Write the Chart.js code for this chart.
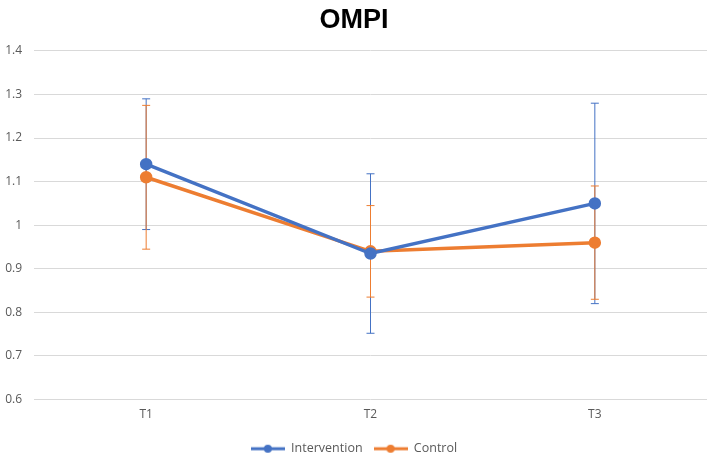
<!DOCTYPE html>
<html>
<head>
<meta charset="utf-8">
<script src="https://cdn.jsdelivr.net/npm/chart.js@4/dist/chart.umd.min.js"></script>
<style>
  body { margin: 0; background: #fff; }
  #wrap { width: 715px; height: 459px; }
</style>
</head>
<body>
<div id="wrap"><canvas id="chart"></canvas></div>
<script>
// Данные графика OMPI
const categories = ['T1', 'T2', 'T3'];
const interventionMean = [1.14, 0.935, 1.05];
const interventionErr = [0.15, 0.183, 0.23];
const controlMean = [1.11, 0.94, 0.96];
const controlErr = [0.165, 0.105, 0.13];

const BLUE = '#4472C4';
const ORANGE = '#ED7D31';

// значок легенды: линия с точкой
function legendIcon(color) {
    const c = document.createElement('canvas');
    c.width = 34;
    c.height = 10;
    const g = c.getContext('2d');
    g.strokeStyle = color;
    g.lineWidth = 3;
    g.beginPath();
    g.moveTo(0, 5);
    g.lineTo(34, 5);
    g.stroke();
    g.fillStyle = color;
    g.beginPath();
    g.arc(17, 5, 4, 0, Math.PI * 2);
    g.fill();
    return c;
}

// планки погрешностей
const errorBars = {
    id: 'errorBars',
    beforeDatasetsDraw(chart) {
        const ctx = chart.ctx;
        const y = chart.scales.y;
        chart.data.datasets.forEach((ds, i) => {
            const meta = chart.getDatasetMeta(i);
            ctx.save();
            ctx.strokeStyle = ds.borderColor;
            ctx.lineWidth = 1;
            meta.data.forEach((pt, j) => {
                const top = y.getPixelForValue(ds.data[j] + ds.errors[j]);
                const bot = y.getPixelForValue(ds.data[j] - ds.errors[j]);
                ctx.beginPath();
                ctx.moveTo(pt.x, top);
                ctx.lineTo(pt.x, bot);
                ctx.moveTo(pt.x - 4, top);
                ctx.lineTo(pt.x + 4, top);
                ctx.moveTo(pt.x - 4, bot);
                ctx.lineTo(pt.x + 4, bot);
                ctx.stroke();
            });
            ctx.restore();
        });
    }
};

new Chart(document.getElementById('chart'), {
    type: 'line',
    data: {
        labels: categories,
        datasets: [
            {
                label: 'Intervention',
                data: interventionMean,
                errors: interventionErr,
                borderColor: BLUE,
                backgroundColor: BLUE,
                borderWidth: 3.5,
                pointRadius: 4.5,
                pointHoverRadius: 4.5,
                pointStyle: 'circle',
                legendIcon: legendIcon(BLUE)
            },
            {
                label: 'Control',
                data: controlMean,
                errors: controlErr,
                borderColor: ORANGE,
                backgroundColor: ORANGE,
                borderWidth: 3.5,
                pointRadius: 4.5,
                pointHoverRadius: 4.5,
                pointStyle: 'circle',
                legendIcon: legendIcon(ORANGE)
            }
        ]
    },
    options: {
        responsive: true,
        maintainAspectRatio: false,
        animation: false,
        layout: { padding: { left: 0, right: 7, top: 2, bottom: -6 } },
        plugins: {
            title: {
                display: true,
                text: 'OMPI',
                color: '#000',
                font: { family: 'Liberation Sans', size: 27, weight: 'bold' },
                padding: { top: 2, bottom: 14.5 }
            },
            legend: {
                position: 'bottom',
                labels: {
                    usePointStyle: true,
                    pointStyleWidth: 34,
                    color: '#595959',
                    font: { family: 'Open Sans', size: 12.5 },
                    padding: 11,
                    generateLabels(chart) {
                        return chart.data.datasets.map((ds, i) => ({
                            text: ds.label,
                            pointStyle: ds.legendIcon,
                            fillStyle: ds.borderColor,
                            strokeStyle: ds.borderColor,
                            fontColor: '#595959',
                            lineWidth: 0,
                            datasetIndex: i
                        }));
                    }
                }
            },
            tooltip: { enabled: false }
        },
        scales: {
            x: {
                offset: true,
                afterFit(scale) { scale.height = 32; },
                grid: { display: false },
                border: { display: false },
                ticks: {
                    color: '#595959',
                    font: { family: 'Open Sans', size: 12 },
                    padding: 0
                }
            },
            y: {
                min: 0.6,
                max: 1.4,
                afterFit(scale) { scale.width = 34; },
                grid: { color: '#D9D9D9', drawTicks: false },
                border: { display: false },
                ticks: {
                    stepSize: 0.1,
                    color: '#595959',
                    font: { family: 'Open Sans', size: 12 },
                    padding: 12,
                    callback: (v) => String(Math.round(v * 10) / 10)
                }
            }
        }
    },
    plugins: [errorBars]
});
</script>
</body>
</html>
